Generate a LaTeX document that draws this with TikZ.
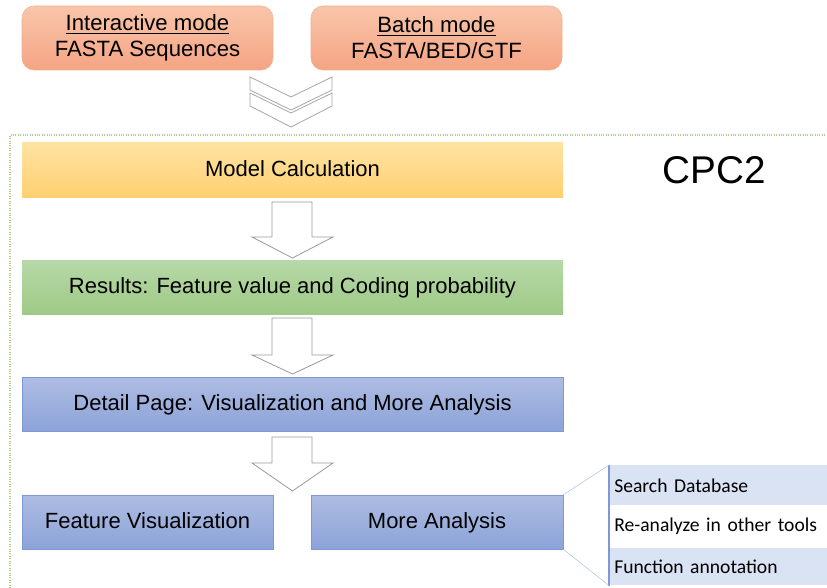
\documentclass[tikz,border=0pt]{standalone}
\usepackage{fontspec}
\setmainfont{Liberation Sans}
\newfontfamily\calib{Carlito}
\newdimen\pxu \pxu=0.75pt
\definecolor{orTop}{HTML}{F9C5AA}
\definecolor{orBot}{HTML}{F4A483}
\definecolor{orLine}{HTML}{F2B190}
\definecolor{yeTop}{HTML}{FFE3A3}
\definecolor{yeBot}{HTML}{FFD070}
\definecolor{grTop}{HTML}{B7D8A8}
\definecolor{grBot}{HTML}{9ECA86}
\definecolor{blTop}{HTML}{AEBCE2}
\definecolor{blBot}{HTML}{8CA3D9}
\definecolor{blLine}{HTML}{7E97D6}
\definecolor{listBl}{HTML}{DAE3F3}
\definecolor{frameGr}{HTML}{A9D18E}
\tikzset{
  inbox/.style={draw=orLine, rounded corners=9pt, top color=orTop, bottom color=orBot, minimum width=251\pxu, minimum height=64\pxu, inner sep=0pt, align=center, font=\fontsize{16.6}{19.5}\selectfont},
  stepbox/.style={draw=none, minimum height=54\pxu, inner sep=0pt, text height=12pt, text depth=3pt, align=center, font=\fontsize{16.5}{19}\selectfont},
  hollow/.style={draw=gray!80, fill=white, line width=0.6pt},
  listrow/.style={minimum width=218\pxu, inner sep=0pt, anchor=north west, text width=214\pxu, align=left, font=\calib\fontsize{14.7}{17}\selectfont}
}
\begin{document}
\begin{tikzpicture}[x=0.75pt,y=-0.75pt]
\useasboundingbox (0,0) rectangle (827,588);
% input boxes
\node[inbox] (inter) at (147.5,38) {\underline{Interactive mode}\\FASTA Sequences};
\node[inbox] (batch) at (436.5,38) {\underline{Batch mode}\\FASTA/BED/GTF};
% chevrons
\draw[hollow, draw=gray!70] (250,93) -- (291,113) -- (332,93) -- (332,106) -- (291,127) -- (250,106) -- cycle;
\draw[hollow, draw=gray!70] (250,77) -- (291,97) -- (332,77) -- (332,90) -- (291,110) -- (250,90) -- cycle;
% frame
\draw[frameGr, densely dotted, line width=0.8pt] (10,588) -- (10,135) -- (827,135);
% steps
\node[stepbox, minimum width=541\pxu, top color=yeTop, bottom color=yeBot] (model) at (292.5,170) {Model Calculation};
\node[font=\fontsize{29}{34}\selectfont] (cpc) at (714,170) {CPC2};
\node[stepbox, minimum width=541\pxu, top color=grTop, bottom color=grBot] (res) at (292.5,287) {Results: Feature value and Coding probability};
\node[stepbox, minimum width=541\pxu, top color=blTop, bottom color=blBot, draw=blLine, line width=0.3pt] (detail) at (292.5,404) {Detail Page: Visualization and More Analysis};
\node[stepbox, minimum width=251\pxu, top color=blTop, bottom color=blBot, draw=blLine, line width=0.3pt] (feat) at (147.5,522) {Feature Visualization};
\node[stepbox, minimum width=252\pxu, top color=blTop, bottom color=blBot, draw=blLine, line width=0.3pt] (more) at (437,522) {More Analysis};
% hollow arrows
\draw[hollow] (272,202) -- (312,202) -- (312,237) -- (333,237) -- (292.5,258) -- (252,237) -- (272,237) -- cycle;
\draw[hollow] (272,318) -- (312,318) -- (312,355) -- (333,355) -- (292.5,374) -- (252,355) -- (272,355) -- cycle;
\draw[hollow] (272,437) -- (312,437) -- (312,463) -- (333,463) -- (292.5,491) -- (252,463) -- (272,463) -- cycle;
% list
\node[listrow, fill=listBl, minimum height=40\pxu] (l1) at (609,465) {\hspace*{3\pxu}Search Database};
\node[listrow, fill=white, minimum height=43\pxu] (l2) at (609,505) {\hspace*{3\pxu}Re-analyze in other tools};
\node[listrow, fill=listBl, minimum height=37\pxu] (l3) at (609,548) {\hspace*{3\pxu}Function annotation};
\draw[blLine, line width=0.8pt] (l1.north west) -- (l3.south west);
\draw[blLine!60, line width=0.4pt] (more.north east) -- (l1.north west);
\draw[blLine!60, line width=0.4pt] (more.south east) -- (l3.south west);
\end{tikzpicture}
\end{document}
